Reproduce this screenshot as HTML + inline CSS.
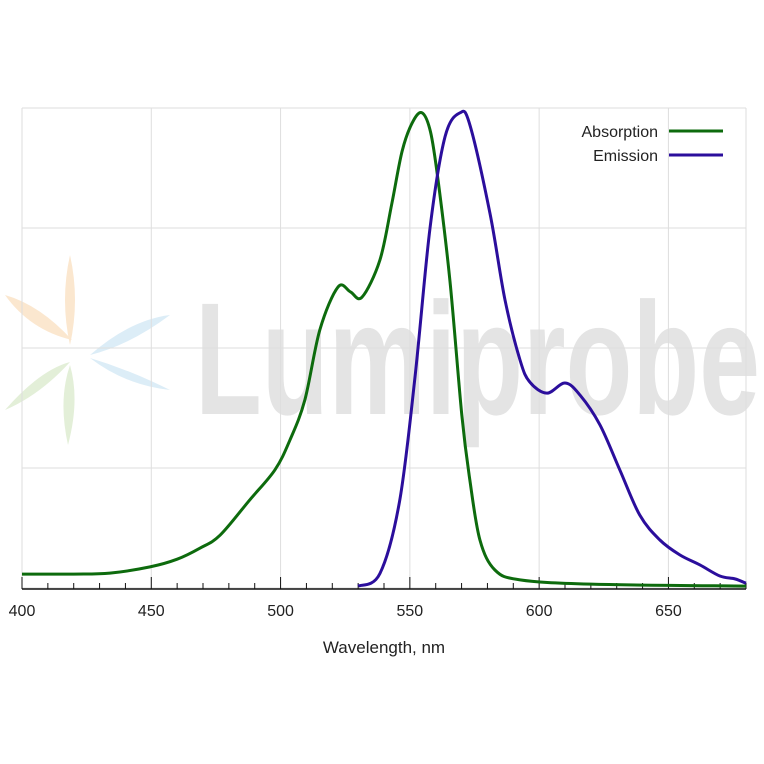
<!DOCTYPE html>
<html><head><meta charset="utf-8"><style>
html,body{margin:0;padding:0;background:#fff;}
svg{display:block;font-family:"Liberation Sans",sans-serif;}
</style></head><body>
<svg id="chart" width="764" height="764" viewBox="0 0 764 764">
<g>
<text x="195" y="414" font-size="160" font-weight="bold" fill="#e4e4e4" textLength="565" lengthAdjust="spacingAndGlyphs">Lumiprobe</text>
<path d="M70,255 Q80,300 70,345 Q60,300 70,255Z" fill="#fbe7cf"/>
<path d="M5,295 Q40,305 72,340 Q30,330 5,295Z" fill="#fbe7cf"/>
<path d="M90,355 Q130,320 170,315 Q130,345 90,355Z" fill="#dcedf7"/>
<path d="M90,358 Q130,370 170,390 Q125,385 90,358Z" fill="#dcedf7"/>
<path d="M70,365 Q80,400 68,445 Q58,400 70,365Z" fill="#e3efd8"/>
<path d="M5,410 Q40,370 70,362 Q40,395 5,410Z" fill="#e3efd8"/>
</g>
<g id="grid"></g>
<g id="axis"></g>
<g id="series"></g>
<g>
<text x="658" y="137" font-size="16" text-anchor="end" fill="#222">Absorption</text>
<line x1="669" y1="131" x2="723" y2="131" stroke="#0d6b0d" stroke-width="3"/>
<text x="658" y="161" font-size="16" text-anchor="end" fill="#222">Emission</text>
<line x1="669" y1="155" x2="723" y2="155" stroke="#2b0e9c" stroke-width="3"/>
</g>
<text x="384" y="653" font-size="17" text-anchor="middle" fill="#222">Wavelength, nm</text>
</svg>
<script>
const absX=[400,420,434,449.5,460,468.8,476.6,488,497.8,503.6,509.4,515.2,522.2,527,531.5,538.4,543,547,551,554.7,558,560.9,565.5,570.1,573.2,577.1,582.9,592.6,620,680];
const absY=[.029,.029,.031,.044,.06,.083,.110,.183,.246,.308,.392,.538,.627,.617,.606,.683,.80,.91,.97,.99,.95,.85,.64,.36,.225,.1,.0375,.017,.008,.004];
const emX=[530,538.4,546,552,557.8,563.6,569.4,573.2,581,586.8,592.6,596.4,603,610,615.8,623.5,631.2,638.9,646.7,654.4,662.2,669.9,675.7,680];
const emY=[.004,.03,.18,.44,.75,.94,.99,.965,.78,.6,.475,.429,.406,.427,.402,.340,.246,.152,.100,.069,.048,.025,.019,.010];
const xTicks=[400,450,500,550,600,650];
const yGrid=[0,0.25,0.5,0.75,1];
const X0=22,X1=746,Y0=588,Y1=108;
const sx=v=>X0+(v-400)/(680-400)*(X1-X0);
const sy=v=>Y0-v*(Y0-Y1);
const NS="http://www.w3.org/2000/svg";
const mk=(t,a,p)=>{const e=document.createElementNS(NS,t);for(const k in a)e.setAttribute(k,a[k]);p.appendChild(e);return e;};
const grid=document.getElementById('grid'),axis=document.getElementById('axis'),series=document.getElementById('series');
yGrid.forEach(v=>{const l=mk('line',{x1:X0,x2:X1,y1:sy(v),y2:sy(v),stroke:'#dedede','stroke-width':1},grid);

});
xTicks.concat([680]).forEach(v=>{const l=mk('line',{x1:sx(v),x2:sx(v),y1:Y1,y2:Y0,stroke:'#dedede','stroke-width':1},grid);

});
const al=mk('line',{x1:X0,x2:X1,y1:Y0+1,y2:Y0+1,stroke:'#111','stroke-width':1.5},axis);


for(let v=400;v<=680;v+=10){const maj=v%50===0;const l=mk('line',{x1:sx(v),x2:sx(v),y1:Y0+1-(maj?12:6),y2:Y0+1,stroke:'#111','stroke-width':1},axis);

}
xTicks.forEach(v=>{const t=mk('text',{x:sx(v),y:Y0+28,'font-size':16,'text-anchor':'middle',fill:'#222'},axis);t.textContent=v;

});
function path(xs,ys){const p=xs.map((x,i)=>[sx(x),sy(ys[i])]);let d='M'+p[0][0]+','+p[0][1];
for(let i=0;i<p.length-1;i++){const a=p[Math.max(0,i-1)],b=p[i],c=p[i+1],e=p[Math.min(p.length-1,i+2)];
d+=` C${b[0]+(c[0]-a[0])/6},${b[1]+(c[1]-a[1])/6} ${c[0]-(e[0]-b[0])/6},${c[1]-(e[1]-b[1])/6} ${c[0]},${c[1]}`;}return d;}
const pa=mk('path',{d:path(absX,absY),fill:'none',stroke:'#0d6b0d','stroke-width':3},series);


const pe=mk('path',{d:path(emX,emY),fill:'none',stroke:'#2b0e9c','stroke-width':3},series);


</script>
</body></html>
